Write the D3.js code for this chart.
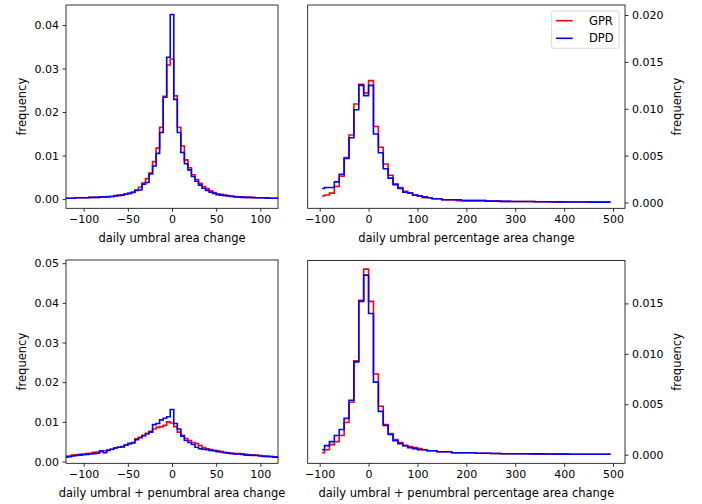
<!DOCTYPE html>
<html>
<head>
<meta charset="utf-8">
<script src="https://cdn.jsdelivr.net/npm/d3@7"></script>
<style>
  html, body { margin: 0; padding: 0; background: #fff; }
  svg { display: block; font-family: "DejaVu Sans", sans-serif; }
</style>
</head>
<body>
<svg id="chart" width="702" height="504"></svg>
<script>
// ---------- DATA ----------
const seriesNames = ["GPR", "DPD"];
const seriesColors = ["#ff0000", "#0000ff"];

// bin centers, absolute area change panels (left column)
const absCenters = [-120,-116,-112,-108,-104,-100,-96,-92,-88,-84,-80,-76,-72,-68,-64,-60,-56,-52,-48,-44,-40,-36,-32,-28,-24,-20,-16,-12,-8,-4,0,4,8,12,16,20,24,28,32,36,40,44,48,52,56,60,64,68,72,76,80,84,88,92,96,100,104,108,112,116,120];
// bin centers, percentage area change panels (right column)
const pctCenters = [-95,-85,-75,-65,-55,-45,-35,-25,-15,-5,5,15,25,35,45,55,65,75,85,95,105,115,125,135,145,155,165,175,185,195,205,215,225,235,245,255,265,275,285,295,305,315,325,335,345,355,365,375,385,395,405,415,425,435,445,455,465,475,485,495];

// panel 1: daily umbral area change
const umbGPR = [0.0002,0.0002,0.0002,0.0003,0.0003,0.0003,0.0003,0.0004,0.0004,0.0004,0.0005,0.0005,0.0006,0.0006,0.0008,0.0009,0.0010,0.0012,0.0013,0.0016,0.0021,0.0027,0.0037,0.0047,0.0060,0.0086,0.0117,0.0165,0.0236,0.0308,0.0322,0.0237,0.0165,0.0122,0.0090,0.0072,0.0056,0.0045,0.0036,0.0029,0.0024,0.0019,0.0015,0.0012,0.0011,0.0009,0.0008,0.0007,0.0006,0.0005,0.0005,0.0004,0.0004,0.0004,0.0003,0.0003,0.0003,0.0003,0.0002,0.0002,0.0002];
const umbDPD = [0.0002,0.0002,0.0002,0.0003,0.0003,0.0003,0.0003,0.0004,0.0004,0.0004,0.0005,0.0005,0.0005,0.0006,0.0007,0.0008,0.0009,0.0011,0.0013,0.0015,0.0020,0.0021,0.0034,0.0038,0.0058,0.0076,0.0105,0.0153,0.0234,0.0326,0.0424,0.0229,0.0153,0.0107,0.0081,0.0067,0.0052,0.0041,0.0032,0.0025,0.0020,0.0016,0.0013,0.0010,0.0009,0.0008,0.0007,0.0006,0.0005,0.0005,0.0004,0.0004,0.0004,0.0003,0.0003,0.0003,0.0003,0.0002,0.0002,0.0002,0.0002];

// panel 2: daily umbral percentage area change
const umbPctGPR = [0.0007,0.0008,0.0010,0.0017,0.0028,0.0048,0.0072,0.0105,0.0126,0.0117,0.0130,0.0081,0.0059,0.0041,0.0029,0.0020,0.0016,0.0012,0.0010,0.0008,0.0007,0.0005,0.0005,0.0004,0.0004,0.0003,0.0003,0.0003,0.0002,0.0002,0.0002,0.0002,0.0002,0.0002,0.00015,0.00015,0.00015,0.00012,0.00012,0.0001,0.0001,0.0001,0.0001,0.0001,0.00008,0.00008,0.00008,0.00007,0.00007,0.00006,0.00006,0.00006,0.00005,0.00005,0.00005,0.00004,0.00004,0.00004,0.00004,0.00003];
const umbPctDPD = [0.0015,0.0016,0.0016,0.0022,0.0030,0.0047,0.0069,0.0099,0.0125,0.0114,0.0125,0.0073,0.0053,0.0036,0.0026,0.0019,0.0015,0.0011,0.0010,0.0008,0.0007,0.0006,0.0005,0.0004,0.0004,0.0003,0.0003,0.0003,0.0003,0.0002,0.0002,0.0002,0.0002,0.0002,0.00015,0.00015,0.00015,0.00012,0.00012,0.0001,0.0001,0.0001,0.0001,0.0001,0.00008,0.00008,0.00008,0.00008,0.00007,0.00007,0.00006,0.00006,0.00005,0.00005,0.00005,0.00004,0.00004,0.00004,0.00004,0.00004];

// panel 3: daily umbral + penumbral area change
const totGPR = [0.0013,0.0014,0.0016,0.0017,0.0018,0.0019,0.0020,0.0021,0.0023,0.0024,0.0025,0.0027,0.0029,0.0031,0.0034,0.0036,0.0038,0.0042,0.0045,0.0048,0.0057,0.0061,0.0066,0.0071,0.0076,0.0082,0.0086,0.0088,0.0091,0.0100,0.0097,0.0088,0.0074,0.0066,0.0058,0.0053,0.0048,0.0045,0.0040,0.0035,0.0032,0.0030,0.0028,0.0027,0.0025,0.0023,0.0022,0.0021,0.0020,0.0020,0.0019,0.0018,0.0017,0.0017,0.0016,0.0015,0.0014,0.0013,0.0013,0.0012,0.0012];
const totDPD = [0.0011,0.0012,0.0014,0.0015,0.0016,0.0017,0.0018,0.0019,0.0020,0.0021,0.0027,0.0022,0.0028,0.0031,0.0034,0.0036,0.0037,0.0041,0.0045,0.0047,0.0055,0.0060,0.0065,0.0070,0.0074,0.0093,0.0096,0.0105,0.0109,0.0113,0.0131,0.0096,0.0082,0.0064,0.0053,0.0048,0.0043,0.0036,0.0032,0.0031,0.0030,0.0028,0.0027,0.0025,0.0024,0.0022,0.0021,0.0020,0.0019,0.0019,0.0018,0.0016,0.0016,0.0015,0.0015,0.0014,0.0013,0.0013,0.0012,0.0011,0.0011];

// panel 4: daily umbral + penumbral percentage area change
const totPctGPR = [0.0002,0.0005,0.0010,0.0013,0.0019,0.0032,0.0052,0.0093,0.0153,0.0184,0.0152,0.0080,0.0048,0.0030,0.0021,0.0015,0.0012,0.0009,0.0008,0.0007,0.0006,0.0005,0.0004,0.0004,0.0003,0.0003,0.0003,0.0002,0.0002,0.0002,0.0002,0.0002,0.00015,0.00015,0.00015,0.00012,0.00012,0.0001,0.0001,0.0001,0.0001,0.00009,0.00009,0.00008,0.00008,0.00007,0.00007,0.00007,0.00006,0.00006,0.00006,0.00005,0.00005,0.00005,0.00005,0.00004,0.00004,0.00004,0.00004,0.00004];
const totPctDPD = [0.0005,0.0009,0.0013,0.0019,0.0025,0.0036,0.0054,0.0092,0.0152,0.0178,0.0140,0.0072,0.0043,0.0029,0.0020,0.0014,0.0011,0.0009,0.0007,0.0006,0.0005,0.0005,0.0004,0.0004,0.0003,0.0003,0.0003,0.0002,0.0002,0.0002,0.0002,0.0002,0.00015,0.00015,0.00015,0.00012,0.00012,0.0001,0.0001,0.0001,0.0001,0.00009,0.00009,0.00008,0.00008,0.00008,0.00007,0.00007,0.00006,0.00006,0.00006,0.00005,0.00005,0.00005,0.00005,0.00004,0.00004,0.00004,0.00004,0.00004];

// tick values
const absXTicks = [-100, -50, 0, 50, 100];
const pctXTicks = [-100, 0, 100, 200, 300, 400, 500];
const p1YTicks = [0, 0.01, 0.02, 0.03, 0.04];
const p2YTicks = [0, 0.005, 0.010, 0.015, 0.020];
const p3YTicks = [0, 0.01, 0.02, 0.03, 0.04, 0.05];
const p4YTicks = [0, 0.005, 0.010, 0.015];

const xLabels = ["daily umbral area change", "daily umbral percentage area change",
                 "daily umbral + penumbral area change", "daily umbral + penumbral percentage area change"];
const yLabel = "frequency";

// ---------- DRAW ----------
const svg = d3.select("#chart");
const fmtNum = (f) => (v) => d3.format(f)(v).replace("-", "\u2212");
const TICK_FS = "11px", LABEL_FS = "11.5px";

const panels = [
  { box: [66, 5, 278, 208.3], xdom: [-120, 120], ydom: [-0.00212, 0.04459], centers: absCenters,
    series: [umbGPR, umbDPD], xt: absXTicks, yt: p1YTicks, yf: ".2f", side: "left", xl: xLabels[0] },
  { box: [307.7, 5, 625, 208.3], xdom: [-124.5, 524.5], ydom: [-0.00062, 0.02107], centers: pctCenters,
    series: [umbPctGPR, umbPctDPD], xt: pctXTicks, yt: p2YTicks, yf: ".3f", side: "right", xl: xLabels[1], legend: true },
  { box: [66, 260, 278, 463.3], xdom: [-120, 120], ydom: [-0.00045, 0.0508], centers: absCenters,
    series: [totGPR, totDPD], xt: absXTicks, yt: p3YTicks, yf: ".2f", side: "left", xl: xLabels[2] },
  { box: [307.7, 260.5, 625, 463.3], xdom: [-124.5, 524.5], ydom: [-0.00085, 0.01925], centers: pctCenters,
    series: [totPctGPR, totPctDPD], xt: pctXTicks, yt: p4YTicks, yf: ".3f", side: "right", xl: xLabels[3] }
];

panels.forEach((p, i) => {
  const [x0, y0, x1, y1] = p.box;
  const xs = d3.scaleLinear().domain(p.xdom).range([x0, x1]);
  const ys = d3.scaleLinear().domain(p.ydom).range([y1, y0]);

  const clipId = "clip" + i;
  svg.append("clipPath").attr("id", clipId)
    .append("rect").attr("x", x0).attr("y", y0).attr("width", x1 - x0).attr("height", y1 - y0);

  const line = d3.line().x(d => xs(d[0])).y(d => ys(d[1])).curve(d3.curveStep);
  const g = svg.append("g").attr("clip-path", `url(#${clipId})`);
  p.series.forEach((vals, k) => {
    const pts = p.centers.map((c, j) => [c, vals[j]]);
    g.append("path").attr("d", line(pts)).attr("fill", "none")
      .attr("stroke", seriesColors[k]).attr("stroke-width", 1.6)
      .attr("stroke-linejoin", "miter").attr("stroke-linecap", "butt");
  });

  // x axis
  const xAxis = d3.axisBottom(xs).tickValues(p.xt).tickSize(3.5).tickPadding(3.5).tickFormat(fmtNum("d"));
  const gx = svg.append("g").attr("transform", `translate(0,${y1})`).call(xAxis);
  // y axis
  const yAxis = (p.side === "left" ? d3.axisLeft(ys) : d3.axisRight(ys))
    .tickValues(p.yt).tickSize(3.5).tickPadding(3.5).tickFormat(fmtNum(p.yf));
  const gy = svg.append("g").attr("transform", `translate(${p.side === "left" ? x0 : x1},0)`).call(yAxis);
  [gx, gy].forEach(ax => {
    ax.select(".domain").remove();
    ax.selectAll(".tick line").attr("stroke", "#000").attr("stroke-width", 0.8);
    ax.selectAll(".tick text").attr("fill", "#000").style("font-size", TICK_FS)
      .style("font-family", "'DejaVu Sans', sans-serif");
  });

  // spines
  svg.append("rect").attr("x", x0).attr("y", y0).attr("width", x1 - x0).attr("height", y1 - y0)
    .attr("fill", "none").attr("stroke", "#000").attr("stroke-width", 0.8);

  // axis labels
  svg.append("text").attr("x", (x0 + x1) / 2).attr("y", y1 + 30).attr("dy", "0.35em")
    .attr("text-anchor", "middle").style("font-size", LABEL_FS).text(p.xl);
  const lx = p.side === "left" ? 21.7 : 676.7;
  svg.append("text").attr("transform", `translate(${lx},${(y0 + y1) / 2}) rotate(-90)`)
    .attr("dy", "0.35em").attr("text-anchor", "middle").style("font-size", LABEL_FS).text(yLabel);

  if (p.legend) {
    const lg = svg.append("g");
    lg.append("rect").attr("x", 551.7).attr("y", 11).attr("width", 67.3).attr("height", 37.3)
      .attr("rx", 2).attr("fill", "#fff").attr("fill-opacity", 0.8)
      .attr("stroke", "#cccccc").attr("stroke-width", 0.8);
    seriesNames.forEach((name, k) => {
      const yy = 20.7 + k * 17.6;
      lg.append("line").attr("x1", 556).attr("x2", 572.7).attr("y1", yy).attr("y2", yy)
        .attr("stroke", seriesColors[k]).attr("stroke-width", 1.6);
      lg.append("text").attr("x", 589).attr("y", yy).attr("dy", "0.35em")
        .style("font-size", LABEL_FS).text(name);
    });
  }
});
</script>
</body>
</html>
